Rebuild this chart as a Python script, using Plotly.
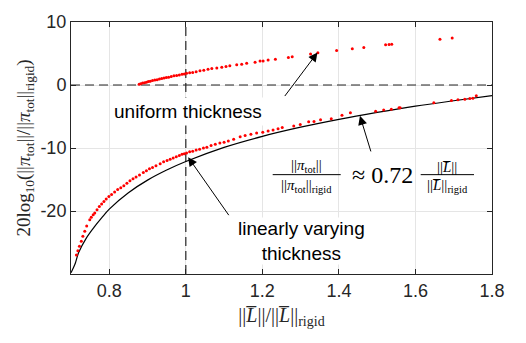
import plotly.graph_objects as go

# ---------------- data ----------------
curve_x = [0.70, 0.71, 0.72, 0.74, 0.76, 0.78, 0.80, 0.85, 0.90, 0.95, 1.00,
           1.10, 1.20, 1.30, 1.40, 1.50, 1.60, 1.70, 1.80]
curve_y = [-29.8, -28.5, -26.6, -24.3, -22.6, -21.1, -19.7, -17.1, -15.1, -13.5, -12.15,
           -9.9, -8.15, -6.7, -5.45, -4.35, -3.35, -2.5, -1.7]

lin_x = [0.714, 0.718, 0.722, 0.727, 0.731, 0.736, 0.741, 0.749, 0.753, 0.758, 0.762,
         0.768, 0.774, 0.780, 0.786, 0.792, 0.799, 0.806, 0.814, 0.822, 0.830, 0.838,
         0.846, 0.854, 0.862, 0.870, 0.879, 0.889, 0.897, 0.905, 0.913, 0.922, 0.933,
         0.942, 0.951, 0.959, 0.967, 0.975, 0.983, 0.990, 0.996, 1.002, 1.010, 1.018,
         1.027, 1.036, 1.046, 1.055, 1.066, 1.077, 1.089, 1.100, 1.111, 1.125, 1.142,
         1.155, 1.170, 1.185, 1.201, 1.215, 1.228, 1.241, 1.252, 1.282, 1.299, 1.321,
         1.335, 1.352, 1.380, 1.408, 1.430, 1.496, 1.517, 1.537, 1.557, 1.560, 1.648,
         1.694, 1.711, 1.729, 1.742, 1.750, 1.759]
lin_y = [-27.0, -26.3, -25.6, -24.8, -24.0, -23.2, -22.4, -21.4, -21.0, -20.6, -20.3,
         -19.8, -19.3, -18.9, -18.5, -18.1, -17.7, -17.4, -17.0, -16.6, -16.3, -16.0,
         -15.6, -15.2, -14.9, -14.6, -14.3, -13.9, -13.6, -13.3, -13.1, -12.8, -12.5,
         -12.2, -12.0, -11.8, -11.6, -11.4, -11.2, -11.0, -10.9, -10.8, -10.6, -10.5,
         -10.3, -10.2, -10.0, -9.9, -9.6, -9.4, -9.2, -9.1, -8.9, -8.6, -8.2,
         -8.0, -7.8, -7.6, -7.5, -7.3, -7.15, -6.95, -6.75, -6.5, -6.25, -5.85,
         -5.8, -5.5, -5.35, -4.8, -4.4, -4.15, -3.95, -3.85, -3.6, -3.6, -2.8,
         -2.45, -2.35, -2.25, -2.15, -2.1, -1.7]

uni_x = [0.878, 0.882, 0.887, 0.892, 0.897, 0.902, 0.907, 0.913, 0.919, 0.925, 0.931,
         0.937, 0.943, 0.949, 0.955, 0.962, 0.969, 0.976, 0.983, 0.990, 0.996, 1.002,
         1.010, 1.018, 1.027, 1.037, 1.047, 1.058, 1.068, 1.081, 1.094, 1.105, 1.115,
         1.133, 1.146, 1.159, 1.181, 1.194, 1.202, 1.215, 1.234, 1.268, 1.278, 1.326,
         1.345, 1.394, 1.435, 1.465, 1.522, 1.531, 1.538, 1.664, 1.696]
uni_y = [0.1, 0.2, 0.3, 0.35, 0.45, 0.55, 0.6, 0.7, 0.8, 0.85, 0.95,
         1.05, 1.1, 1.2, 1.25, 1.35, 1.45, 1.5, 1.6, 1.7, 1.75, 1.85,
         1.95, 2.0, 2.1, 2.25, 2.35, 2.5, 2.6, 2.7, 2.8, 2.95, 3.05,
         3.2, 3.3, 3.45, 3.6, 3.8, 3.8, 3.95, 4.1, 4.37, 4.47, 4.93,
         5.12, 5.48, 5.77, 5.97, 6.39, 6.43, 6.45, 7.26, 7.47]

x_range = [0.7, 1.8]
y_range = [-30, 10]
x_tickvals = [0.8, 1.0, 1.2, 1.4, 1.6, 1.8]
x_ticktext = ["0.8", "1", "1.2", "1.4", "1.6", "1.8"]
y_tickvals = [10, 0, -10, -20]
y_ticktext = ["10", "0", "-10", "-20"]
ref_x = 1.0
ref_y = 0.0

SANS = "Liberation Sans, Arial, Helvetica, sans-serif"
SERIF = "Liberation Serif, Times New Roman, DejaVu Serif, serif"
AX = "#262626"

fig = go.Figure()

# reference dashed lines
fig.add_trace(go.Scatter(x=x_range, y=[ref_y, ref_y], mode="lines",
                         line=dict(color=AX, width=1.2, dash="9px,5px"),
                         hoverinfo="skip", showlegend=False))
fig.add_trace(go.Scatter(x=[ref_x, ref_x], y=y_range, mode="lines",
                         line=dict(color=AX, width=1.2, dash="9px,5px"),
                         hoverinfo="skip", showlegend=False))

# black curve
fig.add_trace(go.Scatter(x=curve_x, y=curve_y, mode="lines",
                         line=dict(color="black", width=1.2, shape="spline"),
                         showlegend=False))
# red points
fig.add_trace(go.Scatter(x=lin_x, y=lin_y, mode="markers",
                         marker=dict(color="#ff0000", size=3, line=dict(width=0)),
                         showlegend=False))
fig.add_trace(go.Scatter(x=uni_x, y=uni_y, mode="markers",
                         marker=dict(color="#ff0000", size=3, line=dict(width=0)),
                         showlegend=False))

annotations = []
# text labels with white background
annotations.append(dict(x=1.0044, y=-4.26, xref="x", yref="y", text="uniform thickness",
                        showarrow=False, font=dict(family=SANS, size=19, color="black"),
                        bgcolor="white", borderpad=3))
annotations.append(dict(x=1.3023, y=-24.7, xref="x", yref="y",
                        text="linearly varying<br>thickness",
                        showarrow=False, font=dict(family=SANS, size=19, color="black"),
                        bgcolor="white", borderpad=0))

# arrows (tip at x,y ; tail at ax,ay)
arrow_common = dict(xref="x", yref="y", axref="x", ayref="y", text="", showarrow=True,
                    arrowhead=2, arrowsize=1.8, arrowwidth=1, arrowcolor="black")
annotations.append(dict(x=1.344, y=5.15, ax=1.2557, ay=-1.99, **arrow_common))
annotations.append(dict(x=1.006, y=-11.45, ax=1.115, ay=-20.9, **arrow_common))
annotations.append(dict(x=1.455, y=-4.9, ax=1.4847, ay=-10.78, **arrow_common))

# equation pieces
bar_y = -14.23
eq_font_small = dict(family=SERIF, size=15, color="black")
annotations.append(dict(x=1.3158, y=bar_y, xref="x", yref="y", yanchor="bottom",
                        text="||<i>π</i><sub>tot</sub>||", showarrow=False,
                        font=eq_font_small, yshift=-2))
annotations.append(dict(x=1.3158, y=bar_y, xref="x", yref="y", yanchor="top",
                        text="||<i>π</i><sub>tot</sub>||<sub>rigid</sub>", showarrow=False,
                        font=eq_font_small, yshift=0))
annotations.append(dict(x=1.515, y=bar_y, xref="x", yref="y", yanchor="middle",
                        text="≈ 0.72", showarrow=False,
                        font=dict(family=SERIF, size=24, color="black")))
annotations.append(dict(x=1.6837, y=bar_y, xref="x", yref="y", yanchor="bottom",
                        text="||<i>L̅</i>||", showarrow=False,
                        font=eq_font_small, yshift=-2))
annotations.append(dict(x=1.6837, y=bar_y, xref="x", yref="y", yanchor="top",
                        text="||<i>L̅</i>||<sub>rigid</sub>", showarrow=False,
                        font=eq_font_small, yshift=0))

shapes = [
    dict(type="line", xref="x", yref="y", x0=1.227, x1=1.4047, y0=bar_y, y1=bar_y,
         line=dict(color="black", width=1)),
    dict(type="line", xref="x", yref="y", x0=1.6137, x1=1.753, y0=bar_y, y1=bar_y,
         line=dict(color="black", width=1)),
]

fig.update_layout(
    width=526, height=343,
    margin=dict(l=71, r=34, t=16, b=69),
    paper_bgcolor="white", plot_bgcolor="white",
    annotations=annotations, shapes=shapes,
    showlegend=False,
    xaxis=dict(range=x_range, tickvals=x_tickvals, ticktext=x_ticktext,
               showgrid=True, gridcolor="#e5e5e5", gridwidth=1, zeroline=False,
               showline=True, linecolor=AX, linewidth=1, mirror="ticks",
               ticks="inside", ticklen=5, tickcolor=AX,
               tickfont=dict(family=SANS, size=18, color=AX),
               title=dict(text="||<i>L̅</i>||/||<i>L̅</i>||<sub>rigid</sub>",
                          font=dict(family=SERIF, size=20, color=AX), standoff=8)),
    yaxis=dict(range=y_range, tickvals=y_tickvals, ticktext=y_ticktext,
               showgrid=True, gridcolor="#e5e5e5", gridwidth=1, zeroline=False,
               showline=True, linecolor=AX, linewidth=1, mirror="ticks",
               ticks="inside", ticklen=5, tickcolor=AX,
               tickfont=dict(family=SANS, size=18, color=AX),
               title=dict(text="20log<sub>10</sub>(||<i>π</i><sub>tot</sub>||/||<i>π</i><sub>tot</sub>||<sub>rigid</sub>)",
                          font=dict(family=SERIF, size=19, color=AX), standoff=4)),
)

fig.write_html("out.html")
